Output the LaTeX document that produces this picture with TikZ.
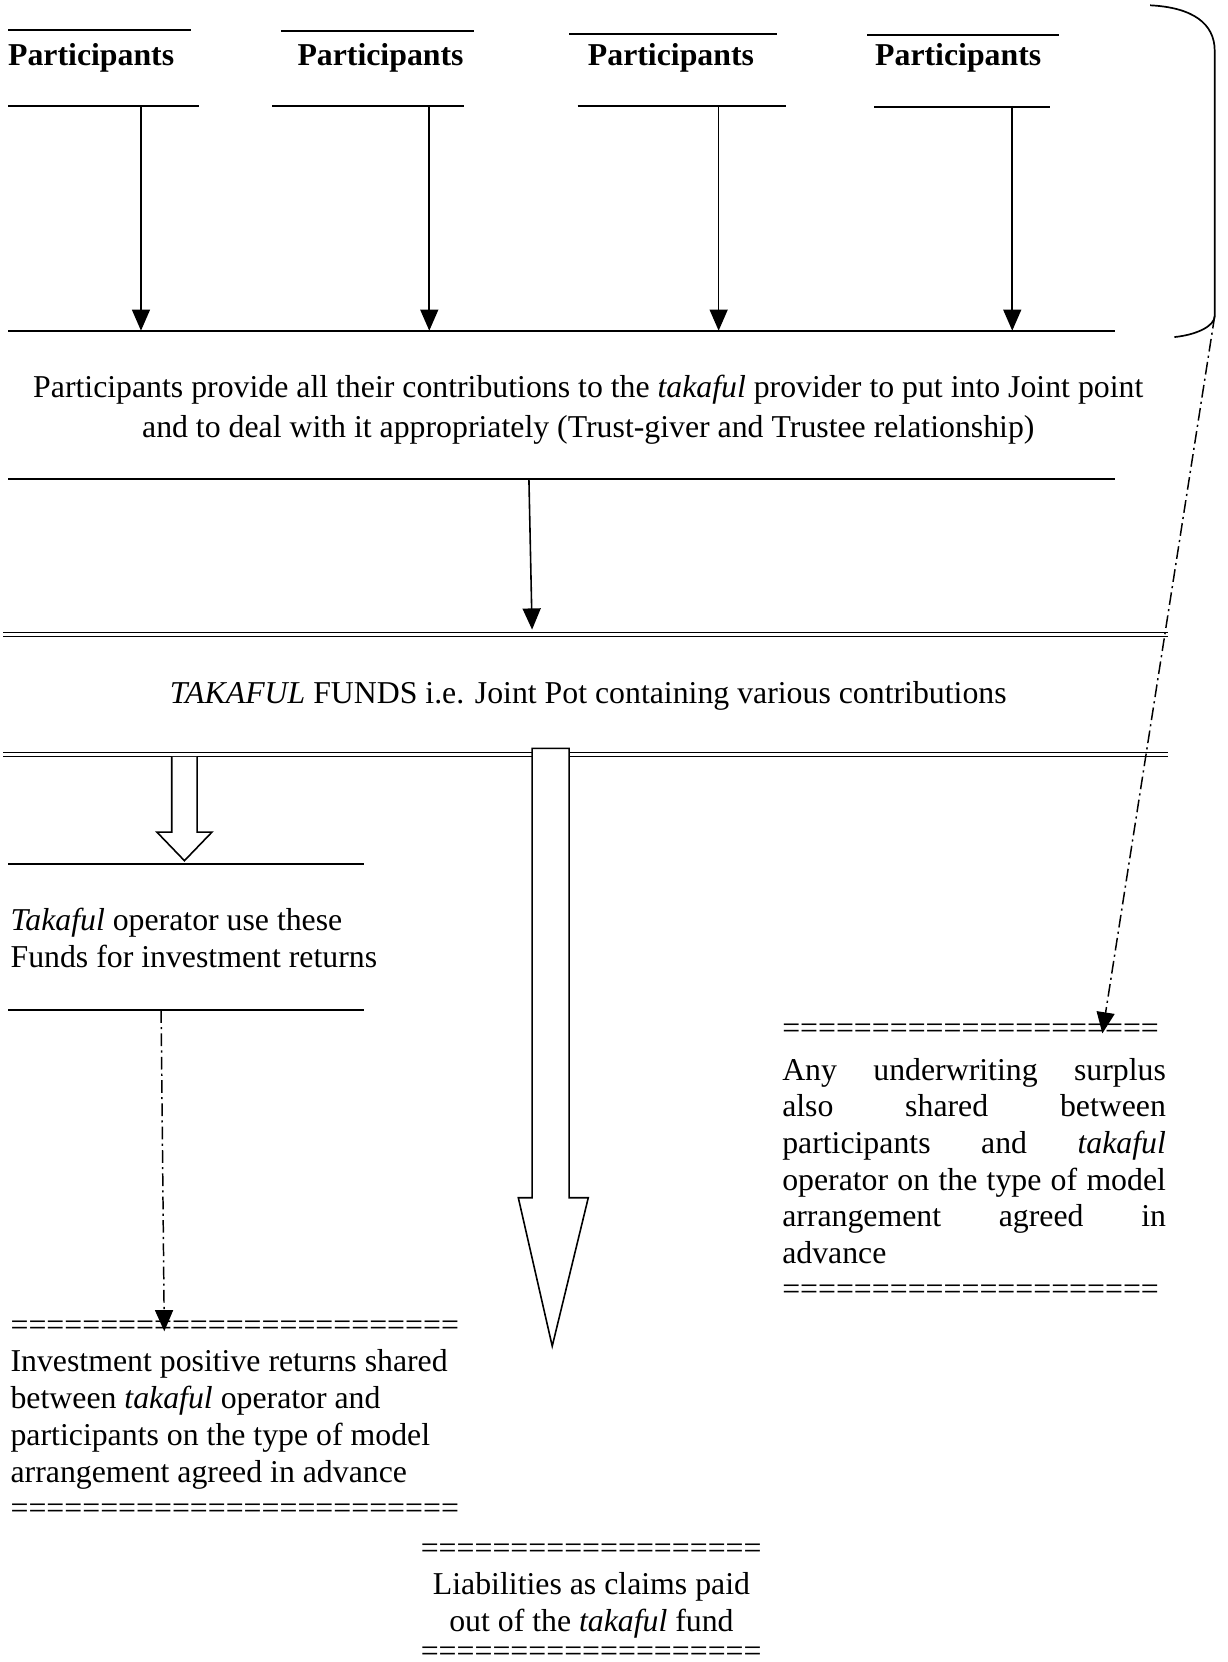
\documentclass[tikz,border=0pt]{standalone}
\usepackage{fontspec}
\setmainfont{Liberation Serif}
\usetikzlibrary{arrows.meta}

\begin{document}
\begin{tikzpicture}[x=1pt,y=-1pt,
  every node/.style={inner sep=0pt, outer sep=0pt, font=\fontsize{30pt}{35pt}\selectfont},
  plabel/.style={font=\fontsize{30pt}{35pt}\selectfont\bfseries, anchor=base},
  rule/.style={line width=1.8pt},
  hline/.style={line width=1.5pt},
  thinarrow/.style={line width=1.5pt, -{Triangle[length=20pt,width=17pt]}},
  dashdot/.style={line width=1.4pt, dash pattern=on 12pt off 4pt on 2pt off 4pt},
  dashdotarrow/.style={dashdot, -{Triangle[length=20pt,width=17pt]}},
  dbl/.style={double, line width=1.3pt, double distance=2.4pt},
  hollow/.style={line width=1.5pt, fill=white, line join=miter},
  eqline/.style={anchor=base west},
  block/.style={anchor=base west, align=left},
]
\useasboundingbox (0,0) rectangle (1158,1568);

% participant labels with their rules
\node[plabel] (p1) at (86,62) {Participants};
\node[plabel] (p2) at (359,62) {Participants};
\node[plabel] (p3) at (633,62) {Participants};
\node[plabel] (p4) at (904,62) {Participants};
\draw[rule] (8,28) -- (180,28);   \draw[rule] (8,100) -- (188,100);
\draw[rule] (265,29) -- (447,29); \draw[rule] (257,100) -- (438,100);
\draw[rule] (537,32) -- (733,32); \draw[rule] (545,100) -- (742,100);
\draw[rule] (818,33) -- (999,33); \draw[rule] (825,101) -- (991,101);

% contributions flowing down to the provider
\coordinate (p1b) at (133,100); \coordinate (p1e) at (133,312);
\coordinate (p2b) at (405,100); \coordinate (p2e) at (405,312);
\coordinate (p3b) at (678,100); \coordinate (p3e) at (678,312);
\coordinate (p4b) at (955,100); \coordinate (p4e) at (955,312);
\draw[thinarrow] (p1b) -- (p1e);
\draw[thinarrow] (p2b) -- (p2e);
\draw[thinarrow] (p3b) -- (p3e);
\draw[thinarrow] (p4b) -- (p4e);
\draw[hline] (8,312) -- (1052,312);

% brace grouping all participants
\coordinate (brtop) at (1085,5);
\coordinate (brbot) at (1146,298);
\draw[line width=1.6pt] (brtop) .. controls (1125,7) and (1146,22) .. (1146,48)
  -- (brbot) .. controls (1146,308) and (1128,316) .. (1108,318);

% trust-giver and trustee relationship (base = last line)
\node[anchor=base, align=center, font=\fontsize{30pt}{38pt}\selectfont] (para) at (555,413)
  {Participants provide all their contributions to the \textit{takaful} provider to put into Joint point\\
   and to deal with it appropriately (Trust-giver and Trustee relationship)};
\draw[hline] (8,452) -- (1052,452);
\coordinate (pa) at (499,452); \coordinate (pb) at (502,594);
\draw[thinarrow] (pa) -- (pb);

% the joint pot
\draw[dbl] (3,598.5) -- (1102,598.5);
\node[anchor=base] (pot) at (555,664)
  {\textit{TAKAFUL} FUNDS i.e. Joint Pot containing various contributions};
\draw[dbl] (3,712) -- (1102,712);

% hollow arrows out of the pot
\draw[hollow] (162,714) -- (162,785) -- (148,785) -- (174,812) -- (200,785) -- (186,785) -- (186,714);
\draw[hollow] (502,706) -- (502,1130) -- (489,1130) -- (521,1270) -- (555,1130) -- (537,1130) -- (537,706) -- cycle;

% investment branch
\draw[hline] (8,815) -- (343,815);
\node[block] (invest) at (10,913) {\textit{Takaful} operator use these\\Funds for investment returns};
\draw[hline] (8,953) -- (343,953);
\node[eqline] (eqa) at (10,1260) {=========================};
\node[block] (share) at (10,1399) {Investment positive returns shared\\between \textit{takaful} operator and\\participants on the type of model\\arrangement agreed in advance};
\node[eqline] (eqb) at (10,1433) {=========================};
\coordinate (ia) at (152,953); \coordinate (ib) at (155,1256);
\draw[dashdotarrow] (ia) -- (ib);

% underwriting surplus branch
\node[eqline] (eqc) at (738,980) {=====================};
\node[block, font=\fontsize{30pt}{34.6pt}\selectfont] (surplus) at (738,1192)
  {\makebox[362pt][s]{Any underwriting surplus}\\
   \makebox[362pt][s]{also shared between}\\
   \makebox[362pt][s]{participants and \textit{takaful}}\\
   \makebox[362pt][s]{operator on the type of model}\\
   \makebox[362pt][s]{arrangement agreed in}\\
   advance};
\node[eqline] (eqd) at (738,1226) {=====================};
\coordinate (sb) at (1040,975);
\draw[dashdotarrow] (brbot) -- (sb);

% claims branch
\node[eqline] (eqe) at (397,1470) {===================};
\node[anchor=base, align=center] (claims) at (558,1539) {Liabilities as claims paid\\out of the \textit{takaful} fund};
\node[eqline] (eqf) at (397,1567.5) {===================};
\end{tikzpicture}
\end{document}
